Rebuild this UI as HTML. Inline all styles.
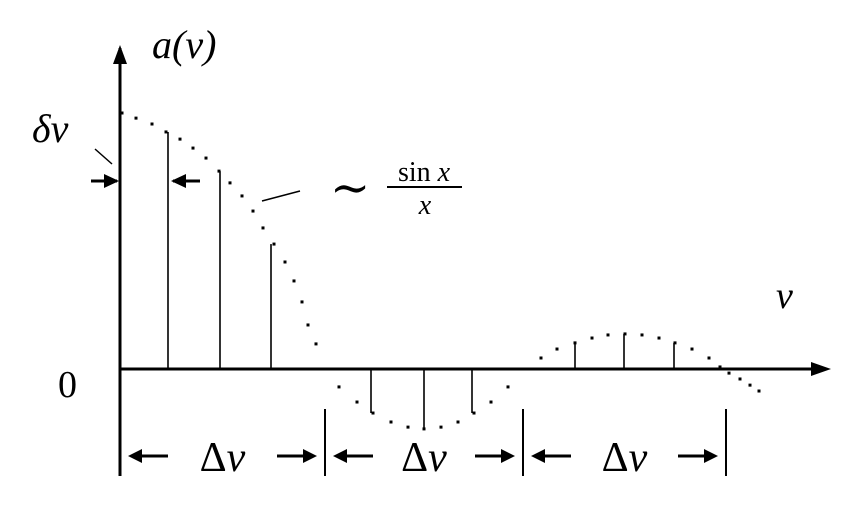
<!DOCTYPE html>
<html><head><meta charset="utf-8"><style>
html,body{margin:0;padding:0;background:#fff;width:845px;height:513px;overflow:hidden}
text{font-family:"Liberation Serif","DejaVu Serif",serif;fill:#000}
</style></head><body>
<svg id="chart" width="845" height="513" viewBox="0 0 845 513" xmlns="http://www.w3.org/2000/svg">
<g id="axes">
<line x1="120" y1="476" x2="120" y2="48" stroke="#000" stroke-width="3"/>
<path d="M120,45 L113,64 L127,64 z"/>
<line x1="120" y1="369" x2="815" y2="369" stroke="#000" stroke-width="3"/>
<path d="M831,369 L811,362 L811,376 z"/>
</g>
<text x="152" y="58" font-size="40" font-style="italic">a(ν)</text>
<text x="776" y="308" font-size="38" font-style="italic">ν</text>
<text x="58" y="397" font-size="38">0</text>
<text x="32" y="142" font-size="40" font-style="italic">δν</text>
<line x1="95" y1="149" x2="112" y2="164" stroke="#000" stroke-width="1.5"/>
<line x1="91" y1="181" x2="117" y2="181" stroke="#000" stroke-width="3"/>
<path d="M119,181 L104,174 L104,188 z"/>
<line x1="200" y1="181" x2="173" y2="181" stroke="#000" stroke-width="3"/>
<path d="M171,181 L186,174 L186,188 z"/>
<line x1="262" y1="201" x2="300" y2="191" stroke="#000" stroke-width="1.5"/>
<text x="330" y="204" font-size="48">∼</text>
<text x="424" y="181" font-size="28" text-anchor="middle">sin <tspan font-style="italic">x</tspan></text>
<line x1="387" y1="187" x2="462" y2="187" stroke="#000" stroke-width="2"/>
<text x="425" y="214" font-size="28" font-style="italic" text-anchor="middle">x</text>
<g id="marks"></g>
<g id="brackets"></g>
</svg>
<script>
const dotFreq=[2,16,32,46,60,73,86,99,110,122,133,143,154,165,174,182,188,196,219,237,253,271,288,304,321,338,354,371,388,421,437,455,472,488,505,522,539,555,572,589,600,609,620,630,639];
const dotAmp=[100,98,95.7,92.6,89.8,86.3,82.4,77.3,72.7,67.6,61.7,55.1,48.8,41.8,34.4,26.2,17.2,9.8,-7,-12.9,-17.2,-20.7,-22.7,-23.4,-22.7,-20.7,-17.2,-12.9,-7,4.3,7.8,10.2,12.1,13.3,13.7,13.3,12.1,10.2,7.8,4.3,0.8,-1.6,-3.9,-6.3,-8.6];
const stemFreq=[48,100,151,251,304,352,455,504,554];
const stemAmp=[92.6,77.3,48.8,-17.2,-23.4,-17.2,10.2,13.7,10.2];
const bracketFreq=[0,205,403,606];
const bracketLabels=["Δ","Δ","Δ"];
const sx=f=>120+f;
const sy=a=>369-a*2.56;
const NS="http://www.w3.org/2000/svg";
const g=document.getElementById('marks');
stemFreq.forEach((f,i)=>{
 const l=document.createElementNS(NS,'line');
 
 
 l.setAttribute('x1',sx(f));l.setAttribute('x2',sx(f));
 l.setAttribute('y1',369);l.setAttribute('y2',sy(stemAmp[i]));
 l.setAttribute('stroke','#000');l.setAttribute('stroke-width','1.6');
 g.appendChild(l);
});
dotFreq.forEach((f,i)=>{
 const r=document.createElementNS(NS,'rect');
 
 
 r.setAttribute('x',sx(f)-1.5);r.setAttribute('y',sy(dotAmp[i])-1.5);
 r.setAttribute('width',3);r.setAttribute('height',3);
 g.appendChild(r);
});
const b=document.getElementById('brackets');
bracketFreq.forEach((f,i)=>{
 if(i>0){
  const l=document.createElementNS(NS,'line');
  
  
  l.setAttribute('x1',sx(f));l.setAttribute('x2',sx(f));
  l.setAttribute('y1',409);l.setAttribute('y2',476);
  l.setAttribute('stroke','#000');l.setAttribute('stroke-width','2');
  b.appendChild(l);
 }
 if(i<bracketLabels.length){
  const x0=sx(f),x1=sx(bracketFreq[i+1]),c=(x0+x1)/2;
  const la=document.createElementNS(NS,'path');
  
  
  la.setAttribute('d',`M${x0+8},456 L${x0+22},449 L${x0+22},463 z M${x0+20},454.5 h28 v3 h-28 z`);
  b.appendChild(la);
  const ra=document.createElementNS(NS,'path');
  
  
  ra.setAttribute('d',`M${x1-8},456 L${x1-22},449 L${x1-22},463 z M${x1-20},454.5 h-28 v3 h28 z`);
  b.appendChild(ra);
  const t=document.createElementNS(NS,'text');
  
  
  t.setAttribute('x',c);t.setAttribute('y',471);
  t.setAttribute('font-size','42');t.setAttribute('text-anchor','middle');
  t.textContent=bracketLabels[i];
  const ts=document.createElementNS(NS,'tspan');
  ts.setAttribute('font-style','italic');
  ts.textContent='ν';
  t.appendChild(ts);
  b.appendChild(t);
 }
});
</script>
</body></html>
